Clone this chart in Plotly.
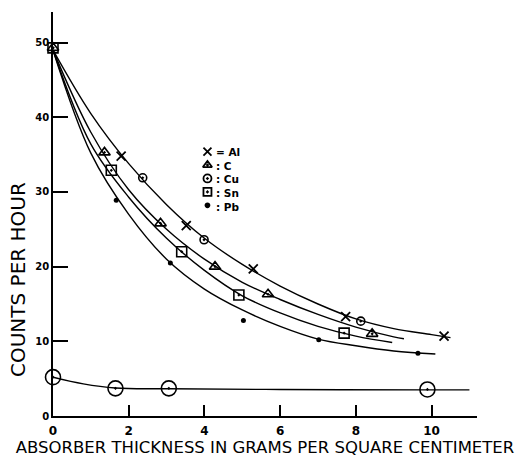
import plotly.graph_objects as go

# ---------------- data ----------------
thickness_al = [1.80, 3.52, 5.29, 7.73, 10.33]
counts_al = [34.8, 25.5, 19.7, 13.3, 10.7]

thickness_c = [0.0, 1.36, 2.84, 4.28, 5.68, 8.43]
counts_c = [49.3, 35.3, 25.8, 20.0, 16.3, 11.0]

thickness_cu = [2.37, 3.99, 8.13]
counts_cu = [31.9, 23.6, 12.7]

thickness_sn = [0.0, 1.54, 3.40, 4.91, 7.69]
counts_sn = [49.3, 32.9, 22.0, 16.2, 11.1]

thickness_pb = [1.67, 3.10, 5.03, 7.02, 9.64]
counts_pb = [28.9, 20.5, 12.8, 10.2, 8.4]

thickness_bg = [0.0, 1.65, 3.06, 9.89]
counts_bg = [5.2, 3.7, 3.7, 3.55]

# hand-drawn smooth curves
curve_top_x = [0, 1, 2, 3, 4, 5, 6, 7, 8, 9, 10, 10.5]
curve_top_y = [49, 40.5, 33.8, 28.3, 23.8, 20.3, 17.4, 15.0, 13.0, 11.7, 10.9, 10.5]

curve_c_x = [0, 1, 2, 3, 4, 5, 6, 7, 8, 9, 9.27]
curve_c_y = [49, 38.0, 30.3, 25.0, 21.0, 17.9, 15.6, 13.6, 11.9, 10.6, 10.35]

curve_sn_x = [0, 1, 2, 3, 4, 5, 6, 7, 8, 8.96]
curve_sn_y = [49, 36.4, 29.3, 23.8, 19.5, 16.1, 13.8, 12.0, 10.7, 9.85]

curve_pb_x = [0, 1, 2, 3, 4, 5, 6, 7, 8, 9, 10.1]
curve_pb_y = [49, 35.2, 27.0, 21.0, 17.0, 14.2, 12.0, 10.3, 9.4, 8.7, 8.3]

curve_bg_x = [0, 0.8, 1.65, 3.06, 6, 9.89, 11.0]
curve_bg_y = [5.2, 4.3, 3.75, 3.65, 3.55, 3.5, 3.5]

x_ticks = [0, 2, 4, 6, 8, 10]
y_ticks = [0, 10, 20, 30, 40, 50]

legend_symbols = ["x-thin-open", "triangle-up-open-dot", "circle-open-dot", "square-open-dot", "circle"]
legend_labels = ["= Al", ": C", ": Cu", ": Sn", ": Pb"]

# ---------------- figure ----------------
FONT = "DejaVu Sans"
fig = go.Figure()

line_style = dict(color="black", width=1.4, shape="spline", smoothing=1.0)
for cx, cy in [(curve_top_x, curve_top_y), (curve_c_x, curve_c_y), (curve_sn_x, curve_sn_y),
               (curve_pb_x, curve_pb_y), (curve_bg_x, curve_bg_y)]:
    fig.add_trace(go.Scatter(x=cx, y=cy, mode="lines", line=line_style,
                             hoverinfo="skip", showlegend=False))


def pts(x, y, symbol, size, lw=1.6):
    fig.add_trace(go.Scatter(
        x=x, y=y, mode="markers", showlegend=False, cliponaxis=False,
        marker=dict(symbol=symbol, size=size, color="black",
                    line=dict(color="black", width=lw))))


pts(thickness_sn, counts_sn, "square-open-dot", 10)
pts(thickness_c, counts_c, "triangle-up-open-dot", 10)
pts(thickness_cu, counts_cu, "circle-open-dot", 8)
pts(thickness_al, counts_al, "x-thin-open", 9, lw=1.8)
pts(thickness_pb, counts_pb, "circle", 5, lw=0)
pts(thickness_bg, counts_bg, "circle-open-dot", 15, lw=1.6)

# hand-lettered key: one multi-line text block with a symbol beside each line
KEY_FONT = 10.5
key_x = 4.08
key_y0 = 35.4
key_dy = 1.3 * KEY_FONT / 7.6   # one text line expressed in counts/hour
for i, sym in enumerate(legend_symbols):
    yy = key_y0 - i * key_dy
    size = 4 if sym == "circle" else 8
    fig.add_trace(go.Scatter(
        x=[key_x], y=[yy], mode="markers", showlegend=False,
        marker=dict(symbol=sym, size=size, color="black",
                    line=dict(color="black", width=1.8))))
fig.add_annotation(x=key_x, y=key_y0 - 2 * key_dy, text="<br>".join(legend_labels),
                   showarrow=False, xanchor="left", yanchor="middle", align="left",
                   xshift=8, yshift=-1, borderpad=0,
                   font=dict(family=FONT, size=KEY_FONT, color="black", weight="bold"))

# y-axis title placed where the hand lettering sits
fig.add_annotation(xref="paper", x=-0.081, xanchor="center", yref="y", y=18.3,
                   yanchor="middle", text="COUNTS PER HOUR", textangle=-90,
                   showarrow=False, font=dict(family=FONT, size=20, color="black"))

fig.update_layout(
    width=518, height=466,
    margin=dict(l=52.5, r=41.3, t=12, b=43),
    paper_bgcolor="white", plot_bgcolor="white",
    font=dict(family=FONT, color="black"),
    xaxis=dict(range=[0, 11.2], tickvals=x_ticks, ticks="inside", ticklen=11, tickwidth=1.5,
               tickcolor="black", showline=True, linecolor="black", linewidth=1.5,
               showgrid=False, zeroline=False, ticklabelstandoff=3,
               tickfont=dict(family=FONT, size=12, color="black", weight="bold"),
               title=dict(text="ABSORBER THICKNESS IN GRAMS PER SQUARE CENTIMETER",
                          font=dict(family=FONT, size=16.5, color="black"), standoff=4)),
    yaxis=dict(range=[0, 54.1], tickvals=y_ticks, ticks="inside", ticklen=15, tickwidth=1.5,
               tickcolor="black", showline=True, linecolor="black", linewidth=1.5,
               showgrid=False, zeroline=False,
               tickfont=dict(family=FONT, size=10, color="black", weight="bold")),
)

fig.write_html("out.html")
